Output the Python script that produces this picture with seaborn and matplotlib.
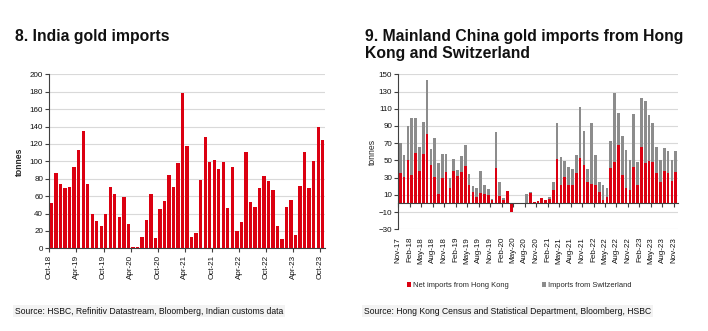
import numpy as np
import pandas as pd
import matplotlib
matplotlib.use("Agg")
import matplotlib.pyplot as plt
import seaborn as sns
from matplotlib import font_manager
from matplotlib.patches import Patch

# ---------------- data ----------------
india_months = list(pd.date_range("2018-10-01", periods=61, freq="MS").strftime("%b-%y"))
india_tonnes = [52, 86, 74, 69, 71, 94, 113, 135, 74, 39,
                31, 26, 40, 71, 62, 36, 59, 28, 1, 2,
                13, 32, 62, 12, 45, 54, 84, 71, 98, 178,
                118, 13, 18, 79, 128, 99, 101, 91, 99, 46,
                93, 20, 30, 111, 53, 47, 69, 83, 77, 67,
                26, 11, 47, 55, 15, 72, 111, 69, 100, 140,
                124]
india_ticklabels = ["Oct-18", "Apr-19", "Oct-19", "Apr-20", "Oct-20", "Apr-21",
                    "Oct-21", "Apr-22", "Oct-22", "Apr-23", "Oct-23"]

china_months = list(pd.date_range("2017-11-01", periods=73, freq="MS").strftime("%b-%y"))
hk_net = [35, 31, 51, 33, 59, 38, 57, 81, 45, 31,
          11, 30, 37, 18, 38, 32, 36, 43, 22, 13,
          7, 12, 11, 10, 4, 41, 9, 4, 15, -10,
          -1, 0, 1, 1, 12, 2, 3, 6, 4, 5,
          16, 52, 22, 31, 22, 22, 35, 53, 45, 25,
          23, 21, 13, 4, 8, 41, 48, 68, 33, 18,
          16, 42, 22, 65, 47, 49, 48, 35, 25, 38,
          35, 26, 36]
swiss = [35, 25, 39, 66, 40, 27, 38, 62, 18, 45,
         36, 28, 21, 11, 14, 7, 19, 25, 12, 7,
         11, 26, 10, 7, 1, 42, 16, 2, 0, 0,
         0, 0, 0, 10, 1, 0, 0, 0, 0, 2,
         9, 41, 32, 18, 20, 18, 21, 59, 39, 15,
         70, 35, 12, 17, 10, 32, 80, 37, 45, 44,
         35, 62, 26, 57, 72, 54, 46, 30, 25, 26,
         26, 24, 25]
china_ticklabels = ["Nov-17", "Feb-18", "May-18", "Aug-18", "Nov-18", "Feb-19", "May-19",
                    "Aug-19", "Nov-19", "Feb-20", "May-20", "Aug-20", "Nov-20", "Feb-21",
                    "May-21", "Aug-21", "Nov-21", "Feb-22", "May-22", "Aug-22", "Nov-22",
                    "Feb-23", "May-23", "Aug-23", "Nov-23"]

series_names = ["Net imports from Hong Kong", "Imports from Switzerland"]

RED = "#DB0011"
GREY = "#8C8C8C"
GRID = "#D9D9D9"
AXC = "#404040"

sns.set_theme(style="white")
names = {f.name for f in font_manager.fontManager.ttflist}
NARROW = "Liberation Sans Narrow" in names
FAM = ["Liberation Sans Narrow", "Liberation Sans"] if NARROW else ["Liberation Sans"]
plt.rcParams["font.family"] = FAM

tick_fs = 6.6 if NARROW else 5.8
title_fs = 12 if NARROW else 11.3
src_fs = 7.2 if NARROW else 6.2
leg_fs = 6.4 if NARROW else 5.4

fig = plt.figure(figsize=(7.08, 3.31), dpi=100)
ax1 = fig.add_axes([0.0696, 0.2498, 0.3894, 0.5257])
ax2 = fig.add_axes([0.5626, 0.3073, 0.3946, 0.4682])

# ---------------- chart 8 ----------------
sns.barplot(x=india_months, y=india_tonnes, color=RED, saturation=1, width=0.74,
            linewidth=0, ax=ax1, zorder=3)
ax1.set_xlim(-0.5, 60.5)
ax1.set_ylim(0, 200)
ax1.set_yticks(np.arange(0, 201, 20))
ax1.set_xticks(np.arange(0, 61, 6) - 0.5)
ax1.set_xticklabels(india_ticklabels, rotation=90)
ax1.yaxis.grid(True, color=GRID, linewidth=0.8, zorder=0)
ax1.set_axisbelow(True)
for s in ["top", "right"]:
    ax1.spines[s].set_visible(False)
for s in ["left", "bottom"]:
    ax1.spines[s].set_color(AXC)
    ax1.spines[s].set_linewidth(0.8)
ax1.tick_params(axis="both", direction="out", length=3, width=0.8, color=AXC,
                labelsize=tick_fs, pad=1.5, labelcolor="#111111")
ax1.tick_params(axis="x", bottom=True)
ax1.tick_params(axis="y", left=True)
ax1.set_ylabel("tonnes", fontsize=tick_fs + 0.4, fontweight="bold", labelpad=4)
ax1.set_xlabel("")

# ---------------- chart 9 ----------------
stack_top = np.clip(np.array(hk_net), 0, None) + np.array(swiss)
sns.barplot(x=china_months, y=stack_top, color=GREY, saturation=1, width=0.7,
            linewidth=0, ax=ax2, zorder=3)
sns.barplot(x=china_months, y=hk_net, color=RED, saturation=1, width=0.7,
            linewidth=0, ax=ax2, zorder=4)
for s in ["top", "right"]:
    ax2.spines[s].set_visible(False)
ax2.spines["bottom"].set_position(("data", 0))
ax2.set_xlim(-0.5, 72.5)
ax2.set_ylim(-30, 150)
ax2.set_yticks(np.arange(-30, 151, 20))
ax2.set_xticks(np.arange(0, 73, 3) - 0.5)
ax2.set_xticklabels(china_ticklabels, rotation=90)
ax2.yaxis.grid(True, color=GRID, linewidth=0.8, zorder=0)
ax2.set_axisbelow(True)
for s in ["left", "bottom"]:
    ax2.spines[s].set_color(AXC)
    ax2.spines[s].set_linewidth(0.8)
    ax2.spines[s].set_zorder(5)
ax2.tick_params(axis="both", direction="out", length=3, width=0.8, color=AXC,
                labelsize=tick_fs, labelcolor="#111111")
ax2.tick_params(axis="y", left=True, pad=1.5)
ax2.tick_params(axis="x", bottom=True, pad=21)
for lab in ax2.get_xticklabels():
    lab.set_rotation(90)
ax2.set_ylabel("tonnes", fontsize=tick_fs + 0.4, labelpad=1.5)
ax2.set_xlabel("")

handles = [Patch(facecolor=RED, edgecolor="none", label=series_names[0]),
           Patch(facecolor=GREY, edgecolor="none", label=series_names[1])]
fig.legend(handles=handles, loc="center", bbox_to_anchor=(0.733, 1 - 285.5 / 331), ncol=2,
           frameon=False, fontsize=leg_fs, handlelength=0.55, handleheight=0.75,
           handletextpad=0.25, columnspacing=4.4, borderaxespad=0)

# ---------------- titles & sources ----------------
fig.text(15 / 708, 1 - 41 / 331, "8. India gold imports", fontsize=title_fs,
         fontweight="bold", ha="left", va="baseline", color="#111111")
fig.text(365 / 708, 1 - 41 / 331, "9. Mainland China gold imports from Hong",
         fontsize=title_fs, fontweight="bold", ha="left", va="baseline", color="#111111")
fig.text(365 / 708, 1 - 58 / 331, "Kong and Switzerland",
         fontsize=title_fs, fontweight="bold", ha="left", va="baseline", color="#111111")

bb = dict(facecolor="#F3F3F3", edgecolor="none", pad=1.2)
fig.text(15 / 708, 1 - 311 / 331, "Source: HSBC, Refinitiv Datastream, Bloomberg, Indian customs data",
         fontsize=src_fs, ha="left", va="center", color="#111111", bbox=bb)
fig.text(364 / 708, 1 - 311 / 331, "Source: Hong Kong Census and Statistical Department, Bloomberg, HSBC",
         fontsize=src_fs, ha="left", va="center", color="#111111", bbox=bb)

fig.savefig("out.png", dpi=100)
